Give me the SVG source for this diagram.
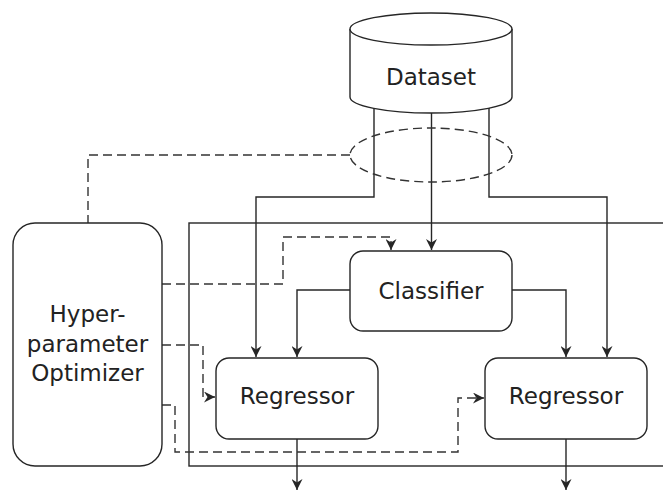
<svg xmlns="http://www.w3.org/2000/svg" width="663" height="490" viewBox="0 0 663 490">
<style>
.ln{fill:none;stroke:#262626;stroke-width:1.4}
.ds{fill:none;stroke:#333;stroke-width:1.4;stroke-dasharray:9 5}
.nd{fill:#fff;stroke:#262626;stroke-width:1.4}
.tx{font-family:"DejaVu Sans",sans-serif;font-size:23px;fill:#222;text-anchor:middle}
</style>
<defs>
<marker id="ah" markerWidth="12" markerHeight="11" refX="11" refY="5.5" orient="auto" markerUnits="userSpaceOnUse">
<path d="M0,0 L11,5.5 L0,11 L3.5,5.5 z" fill="#262626"/>
</marker>
</defs>
<rect id="container" x="189" y="223" width="500" height="243" class="ln"/>
<g id="connectors">
<path class="ln" d="M374,100 V197 H256 V357" marker-end="url(#ah)"/>
<path class="ln" d="M431.5,100 V250" marker-end="url(#ah)"/>
<path class="ln" d="M489,100 V197 H607 V357" marker-end="url(#ah)"/>
<path class="ln" d="M350,290 H297 V357" marker-end="url(#ah)"/>
<path class="ln" d="M512,290 H566 V357" marker-end="url(#ah)"/>
<path class="ln" d="M297,439 V490" marker-end="url(#ah)"/>
<path class="ln" d="M566,439 V490" marker-end="url(#ah)"/>
<path class="ds" d="M350,155 H88 V223"/>
<path class="ds" d="M162,284 H283 V237 H391 V250" marker-end="url(#ah)"/>
<path class="ds" d="M162,345 H203 V397 H215" marker-end="url(#ah)"/>
<path class="ds" d="M162,405 H175 V452 H458 V398 H484" marker-end="url(#ah)"/>
<ellipse class="ds" cx="431" cy="155" rx="81" ry="27"/>
</g>
<g id="dataset">
<path class="nd" d="M350,29 V97 A81,16 0 0 0 512,97 V29"/>
<ellipse class="nd" cx="431" cy="29" rx="81" ry="16"/>
<text class="tx" x="431" y="85">Dataset</text>
</g>
<g id="optimizer">
<rect class="nd" x="13" y="223" width="149" height="243" rx="22"/>
<text class="tx" x="87.5" y="322">Hyper-</text>
<text class="tx" x="87.5" y="351.5">parameter</text>
<text class="tx" x="87.5" y="381">Optimizer</text>
</g>
<g id="classifier">
<rect class="nd" x="350" y="251" width="162" height="80" rx="13"/>
<text class="tx" x="431" y="299">Classifier</text>
</g>
<g id="regressor1">
<rect class="nd" x="216" y="358" width="162" height="81" rx="13"/>
<text class="tx" x="297" y="404">Regressor</text>
</g>
<g id="regressor2">
<rect class="nd" x="485" y="358" width="162" height="81" rx="13"/>
<text class="tx" x="566" y="404">Regressor</text>
</g>
</svg>
